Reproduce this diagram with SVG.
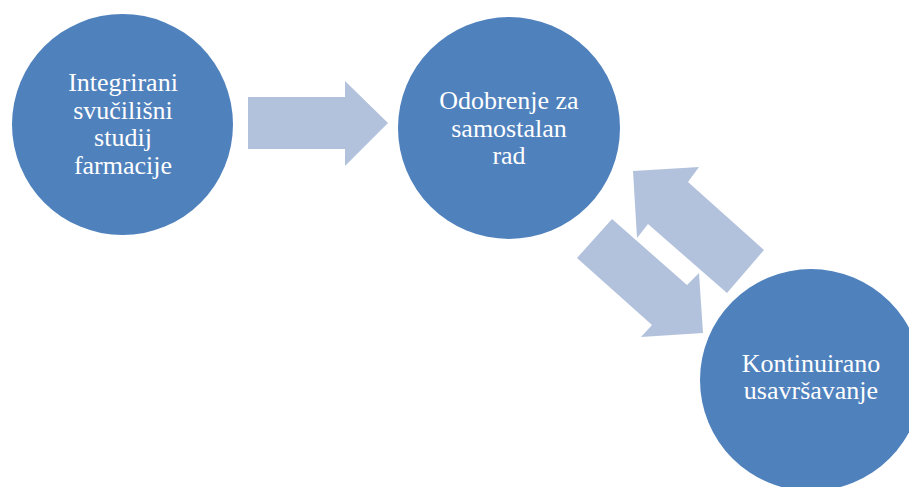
<svg xmlns="http://www.w3.org/2000/svg" width="909" height="487" viewBox="0 0 909 487">
<style>
.node{fill:#4F81BD}
.arr{fill:#B3C2DC}
text{font-family:"Liberation Serif","Times New Roman",serif;font-size:26px;fill:#FFFFFF;text-anchor:middle}
</style>
<rect width="909" height="487" fill="#FFFFFF"/>
<g id="connectors">
<polygon class="arr" points="248,97 345,97 345,81 388,123 345,166 345,149 248,149"/>
<polygon class="arr" points="633,171 699,167 688,182 764,250 727,293 648,224 637,238"/>
<polygon class="arr" points="612,219 687,285 699,273 703,333 641,337 652,325 577,258"/>
</g>
<g id="node1">
<circle class="node" cx="122.5" cy="124.5" r="110.5"/>
<text x="123" y="91">Integrirani</text>
<text x="123" y="118.5">svučilišni</text>
<text x="123" y="146">studij</text>
<text x="123" y="173.5">farmacije</text>
</g>
<g id="node2">
<circle class="node" cx="509" cy="128" r="111"/>
<text x="509" y="109">Odobrenje za</text>
<text x="509" y="136.5">samostalan</text>
<text x="509" y="164">rad</text>
</g>
<g id="node3">
<circle class="node" cx="811" cy="380" r="111"/>
<text x="811" y="372">Kontinuirano</text>
<text x="811" y="399">usavršavanje</text>
</g>
</svg>
